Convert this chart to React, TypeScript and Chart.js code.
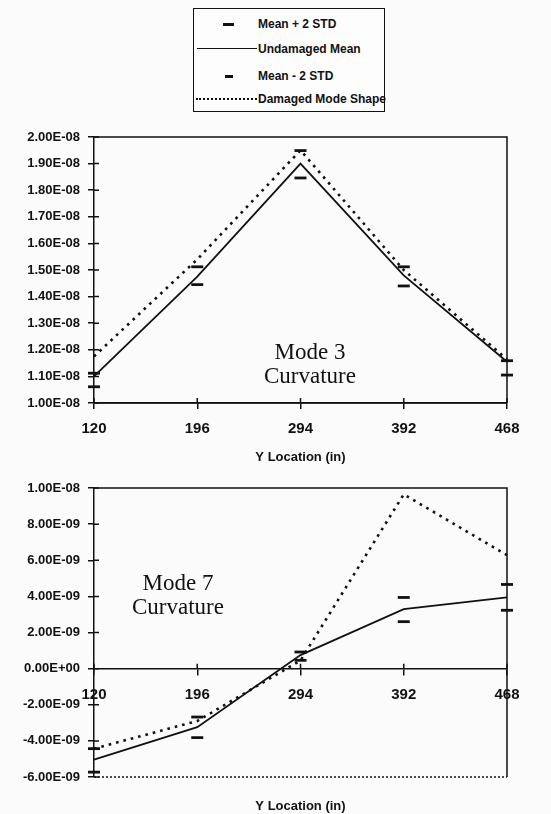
import React, { useEffect, useRef } from "react";
import { Chart, registerables } from "chart.js";

Chart.register(...registerables);

// ---------- data ----------
const yLocations = ["120", "196", "294", "392", "468"];

// Mode 3 curvature
const mode3Mean = [1.1e-8, 1.475e-8, 1.9e-8, 1.48e-8, 1.155e-8];
const mode3Plus2Std = [1.112e-8, 1.512e-8, 1.949e-8, 1.512e-8, 1.159e-8];
const mode3Minus2Std = [1.061e-8, 1.445e-8, 1.846e-8, 1.44e-8, 1.105e-8];
const mode3Damaged = [1.175e-8, 1.54e-8, 1.95e-8, 1.5e-8, 1.164e-8];
const mode3TickValues = [1.0e-8, 1.1e-8, 1.2e-8, 1.3e-8, 1.4e-8, 1.5e-8, 1.6e-8, 1.7e-8, 1.8e-8, 1.9e-8, 2.0e-8];
const mode3TickLabels = ["1.00E-08", "1.10E-08", "1.20E-08", "1.30E-08", "1.40E-08", "1.50E-08", "1.60E-08", "1.70E-08", "1.80E-08", "1.90E-08", "2.00E-08"];

// Mode 7 curvature
const mode7Mean = [-5.04e-9, -3.24e-9, 0.75e-9, 3.29e-9, 3.94e-9];
const mode7Plus2Std = [-4.43e-9, -2.68e-9, 0.92e-9, 3.94e-9, 4.66e-9];
const mode7Minus2Std = [-5.73e-9, -3.82e-9, 0.46e-9, 2.6e-9, 3.23e-9];
const mode7Damaged = [-4.43e-9, -2.9e-9, 0.45e-9, 9.65e-9, 6.28e-9];
const mode7TickValues = [-6e-9, -4e-9, -2e-9, 0, 2e-9, 4e-9, 6e-9, 8e-9, 1e-8];
const mode7TickLabels = ["-6.00E-09", "-4.00E-09", "-2.00E-09", "0.00E+00", "2.00E-09", "4.00E-09", "6.00E-09", "8.00E-09", "1.00E-08"];

const legendLabels = ["Mean + 2 STD", "Undamaged Mean", "Mean - 2 STD", "Damaged Mode Shape"];
const xTitle = "Y Location (in)";

// ---------- styling ----------
const SANS = "'Liberation Sans', Arial, sans-serif";
const SERIF = "'Liberation Serif', 'DejaVu Serif', serif";
const INK = "#111";

const framePlugin = {
  id: "frameTicks",
  afterDraw(chart: any, _args: any, opts: any) {
    const { ctx, chartArea } = chart;
    const xs = chart.scales.x;
    const ys = chart.scales.y;
    const axisY = opts.xAtZero ? ys.getPixelForValue(0) : chartArea.bottom;
    ctx.save();
    ctx.strokeStyle = INK;
    ctx.lineWidth = 1.5;
    ctx.beginPath();
    ctx.moveTo(chartArea.left, chartArea.top);
    ctx.lineTo(chartArea.right, chartArea.top);
    ctx.lineTo(chartArea.right, chartArea.bottom);
    ctx.stroke();
    ctx.beginPath();
    if (opts.dottedBottom) ctx.setLineDash([2, 2]);
    ctx.moveTo(chartArea.left, chartArea.bottom);
    ctx.lineTo(chartArea.right, chartArea.bottom);
    ctx.stroke();
    ctx.setLineDash([]);
    ctx.beginPath();
    ys.ticks.forEach((t: any) => {
      const py = ys.getPixelForValue(t.value);
      ctx.moveTo(chartArea.left, py);
      ctx.lineTo(chartArea.left + 5, py);
    });
    xs.ticks.forEach((_t: any, i: number) => {
      const px = xs.getPixelForTick(i);
      ctx.moveTo(px, axisY);
      ctx.lineTo(px, axisY - 5);
    });
    ctx.stroke();
    ctx.restore();
  },
};

function datasets(mean: number[], plus: number[], minus: number[], damaged: number[]) {
  return [
    {
      label: legendLabels[1],
      data: mean,
      borderColor: INK,
      borderWidth: 1.8,
      pointRadius: 0,
      tension: 0,
      clip: false,
    },
    {
      label: legendLabels[3],
      data: damaged,
      borderColor: INK,
      borderWidth: 2.6,
      borderDash: [2.6, 5],
      pointRadius: 0,
      tension: 0,
      clip: false,
    },
    {
      label: legendLabels[0],
      data: plus,
      showLine: false,
      pointStyle: "line",
      pointRadius: 6,
      pointBorderWidth: 2.8,
      pointBorderColor: INK,
      borderColor: INK,
      clip: false,
    },
    {
      label: legendLabels[2],
      data: minus,
      showLine: false,
      pointStyle: "line",
      pointRadius: 6,
      pointBorderWidth: 2.8,
      pointBorderColor: INK,
      borderColor: INK,
      clip: false,
    },
  ];
}

function yAxis(min: number, max: number, values: number[], labels: string[]) {
  return {
    type: "linear",
    min,
    max,
    afterBuildTicks: (scale: any) => {
      scale.ticks = values.map((v) => ({ value: v }));
    },
    afterFit: (scale: any) => {
      scale.width = 94;
    },
    ticks: {
      color: INK,
      font: { family: SANS, size: 13, weight: "bold" },
      padding: 8,
      callback: (_v: any, i: number) => labels[i],
    },
    grid: { display: true, drawOnChartArea: false, drawTicks: true, tickLength: 6, color: INK, lineWidth: 1.5 },
    border: { display: true, color: INK, width: 1.5 },
  };
}

function xTicks() {
  return {
    color: INK,
    font: { family: SANS, size: 15, weight: "bold" },
    padding: 11,
    maxRotation: 0,
    autoSkip: false,
  };
}

function Mode3Chart() {
  const ref = useRef<HTMLCanvasElement | null>(null);
  useEffect(() => {
    const chart = new Chart(ref.current as HTMLCanvasElement, {
      type: "line",
      data: { labels: yLocations, datasets: datasets(mode3Mean, mode3Plus2Std, mode3Minus2Std, mode3Damaged) as any },
      options: {
        responsive: false,
        animation: false,
        devicePixelRatio: 1,
        layout: { padding: { top: 17, right: 44, left: 0, bottom: 0 } },
        plugins: {
          legend: { display: false },
          tooltip: { enabled: false },
          frameTicks: { dottedBottom: false, xAtZero: false },
        } as any,
        scales: {
          x: {
            type: "category",
            offset: false,
            afterFit: (scale: any) => {
              scale.height = 67;
            },
            ticks: xTicks(),
            grid: { display: true, drawOnChartArea: false, drawTicks: true, tickLength: 6, color: INK, lineWidth: 1.5, offset: false },
            border: { display: true, color: INK, width: 1.5 },
            title: {
              display: true,
              text: xTitle,
              color: INK,
              font: { family: SANS, size: 13, weight: "bold" },
              padding: { top: 0, bottom: 5 },
            },
          },
          y: yAxis(1.0e-8, 2.0e-8, mode3TickValues, mode3TickLabels),
        } as any,
      },
      plugins: [framePlugin],
    });
    return () => chart.destroy();
  }, []);
  return <canvas ref={ref} width={551} height={350} style={{ position: "absolute", left: 0, top: 120, width: 551, height: 350 }} />;
}

function Mode7Chart() {
  const ref = useRef<HTMLCanvasElement | null>(null);
  useEffect(() => {
    const chart = new Chart(ref.current as HTMLCanvasElement, {
      type: "line",
      data: { labels: yLocations, datasets: datasets(mode7Mean, mode7Plus2Std, mode7Minus2Std, mode7Damaged) as any },
      options: {
        responsive: false,
        animation: false,
        devicePixelRatio: 1,
        layout: { padding: { top: 18, right: 44, left: 0, bottom: 0 } },
        plugins: {
          legend: { display: false },
          tooltip: { enabled: false },
          frameTicks: { dottedBottom: true, xAtZero: true },
        } as any,
        scales: {
          x: {
            type: "category",
            offset: false,
            position: { y: 0 },
            ticks: xTicks(),
            grid: { display: true, drawOnChartArea: false, drawTicks: true, tickLength: 6, color: INK, lineWidth: 1.5, offset: false },
            border: { display: true, color: INK, width: 1.5 },
          },
          xb: {
            type: "category",
            position: "bottom",
            offset: false,
            afterFit: (scale: any) => {
              scale.height = 37;
            },
            ticks: { display: false },
            grid: { display: false },
            border: { display: false },
            title: {
              display: true,
              text: xTitle,
              color: INK,
              font: { family: SANS, size: 13, weight: "bold" },
              padding: { top: 0, bottom: 0 },
            },
          },
          y: yAxis(-6e-9, 1e-8, mode7TickValues, mode7TickLabels),
        } as any,
      },
      plugins: [framePlugin],
    });
    return () => chart.destroy();
  }, []);
  return <canvas ref={ref} width={551} height={344} style={{ position: "absolute", left: 0, top: 470, width: 551, height: 344 }} />;
}

function LegendRow({ top, kind, text }: { top: number; kind: string; text: string }) {
  let symbol: React.ReactNode = null;
  if (kind === "plus") {
    symbol = <div style={{ position: "absolute", left: 29, top: -1.5, width: 11, height: 3, background: INK }} />;
  } else if (kind === "minus") {
    symbol = <div style={{ position: "absolute", left: 31, top: -1, width: 8, height: 2.5, background: INK }} />;
  } else if (kind === "solid") {
    symbol = <div style={{ position: "absolute", left: 3, top: -1, width: 60, height: 0, borderTop: `1.8px solid ${INK}` }} />;
  } else {
    symbol = <div style={{ position: "absolute", left: 2, top: -1, width: 61, height: 0, borderTop: `2.5px dotted ${INK}` }} />;
  }
  return (
    <div style={{ position: "absolute", left: 0, top, width: "100%", height: 0 }}>
      {symbol}
      <div
        style={{
          position: "absolute",
          left: 64,
          top: -8,
          height: 16,
          lineHeight: "16px",
          fontFamily: SANS,
          fontWeight: "bold",
          fontSize: 12,
          color: INK,
          whiteSpace: "nowrap",
        }}
      >
        {text}
      </div>
    </div>
  );
}

function Annotation({ x, y, lines }: { x: number; y: number; lines: string[] }) {
  return (
    <div
      style={{
        position: "absolute",
        left: x,
        top: y,
        transform: "translate(-50%, 0)",
        fontFamily: SERIF,
        fontSize: 23,
        lineHeight: "24px",
        color: INK,
        textAlign: "center",
        whiteSpace: "nowrap",
      }}
    >
      {lines.map((l, i) => (
        <div key={i}>{l}</div>
      ))}
    </div>
  );
}

export default function App() {
  return (
    <div style={{ position: "absolute", left: 0, top: 0, width: 551, height: 814, background: "#fbfbfb", overflow: "hidden" }}>
      <div
        style={{
          position: "absolute",
          left: 193,
          top: 8,
          width: 192,
          height: 104,
          border: `1.5px solid ${INK}`,
          boxSizing: "border-box",
          background: "#fdfdfd",
        }}
      >
        <LegendRow top={15} kind="plus" text={legendLabels[0]} />
        <LegendRow top={40} kind="solid" text={legendLabels[1]} />
        <LegendRow top={67} kind="minus" text={legendLabels[2]} />
        <LegendRow top={90} kind="dotted" text={legendLabels[3]} />
      </div>
      <Mode3Chart />
      <Mode7Chart />
      <Annotation x={310} y={340} lines={["Mode 3", "Curvature"]} />
      <Annotation x={178} y={571} lines={["Mode 7", "Curvature"]} />
    </div>
  );
}
